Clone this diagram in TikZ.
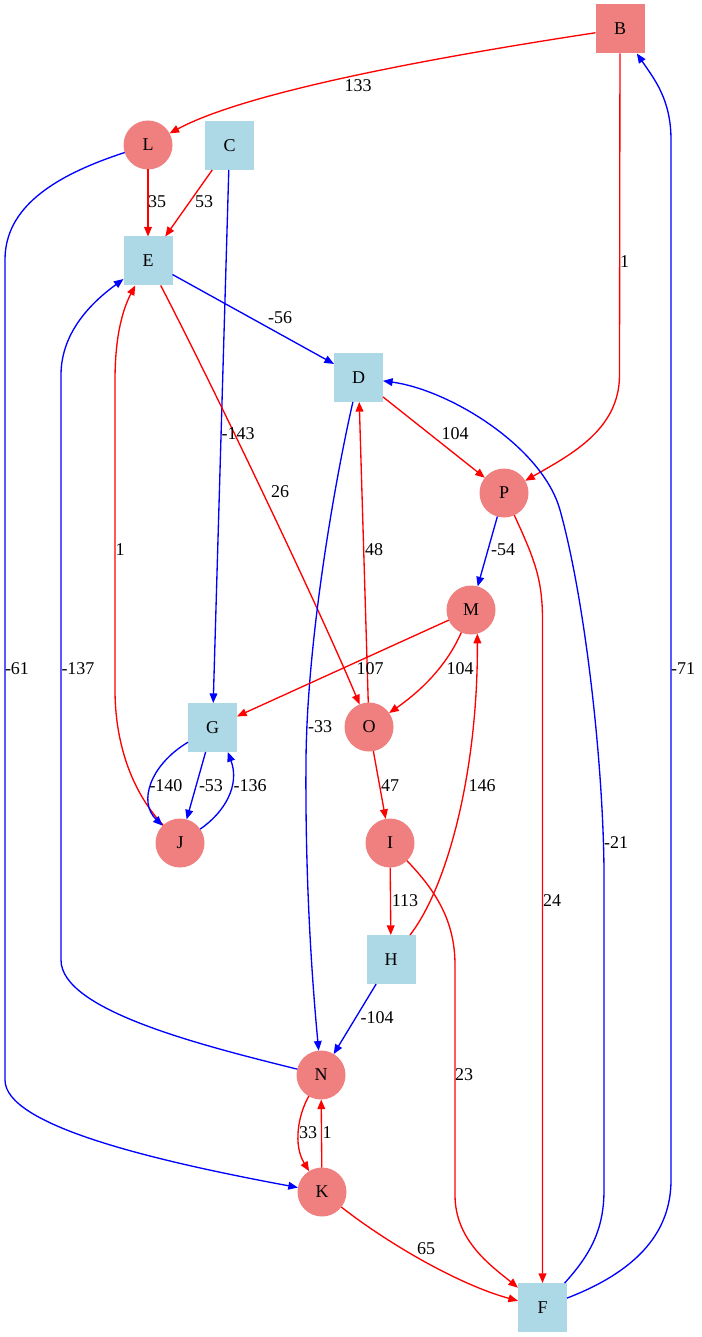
\documentclass[tikz,border=0pt]{standalone}
\usepackage{fontspec}
\setmainfont{Liberation Serif}
\usetikzlibrary{arrows.meta}
\definecolor{nodecoral}{HTML}{F08080}
\definecolor{nodeblue}{HTML}{ADD8E6}
\definecolor{edgered}{HTML}{FF0000}
\definecolor{edgeblue}{HTML}{0000FF}

\begin{document}
\begin{tikzpicture}[x=0.75pt,y=-0.75pt,
  font=\fontsize{13.5}{16}\selectfont,
  boxnode/.style={rectangle, fill=nodeblue, minimum width=36.75pt, minimum height=36.75pt, inner sep=0pt, outer sep=0pt},
  coralbox/.style={boxnode, fill=nodecoral},
  roundnode/.style={circle, fill=nodecoral, minimum size=36.75pt, inner sep=0pt, outer sep=0pt},
  edgelabel/.style={inner sep=0pt},
  arc/.style={line width=1pt, -{Triangle[length=7.2pt,width=5.8pt]}},
  redarc/.style={arc, draw=edgered},
  bluearc/.style={arc, draw=edgeblue},
]
\useasboundingbox (0,0) rectangle (701,1337);

% vertices
\node[coralbox]  (B) at (620,29)     {B};
\node[roundnode] (L) at (148,145)    {L};
\node[boxnode]   (C) at (229.5,145.5){C};
\node[boxnode]   (E) at (148,261)    {E};
\node[boxnode]   (D) at (358.5,377.5){D};
\node[roundnode] (P) at (504,493)    {P};
\node[roundnode] (M) at (471,610)    {M};
\node[boxnode]   (G) at (212.5,727.5){G};
\node[roundnode] (O) at (369,727)    {O};
\node[roundnode] (J) at (180,843)    {J};
\node[roundnode] (I) at (390,843)    {I};
\node[boxnode]   (H) at (391,959.5)  {H};
\node[roundnode] (N) at (321,1075)   {N};
\node[roundnode] (K) at (322,1192)   {K};
\node[boxnode]   (F) at (542.5,1307.5){F};

% edges
\draw[redarc] (B) .. controls (450,55) and (250,90) .. (L);
\draw[redarc] (B) -- (619.5,375) .. controls (619.5,430) and (570,455) .. (P);
\draw[bluearc] (F) .. controls (640,1270) and (671,1230) .. (671,1180) -- (671,140) .. controls (671,100) and (655,80) .. (B);
\draw[redarc] (L) -- (E);
\draw[redarc] (C) -- (E);
\draw[bluearc] (L) .. controls (40,180) and (5,215) .. (5,260) -- (5,1080) .. controls (5,1125) and (150,1160) .. (K);
\draw[bluearc] (C) -- (G);
\draw[bluearc] (E) -- (D);
\draw[redarc] (E) .. controls (215,390) and (320,610) .. (O);
\draw[redarc] (J) .. controls (130,790) and (115,740) .. (115,690) -- (115,380) .. controls (115,330) and (125,305) .. (E);
\draw[bluearc] (N) .. controls (200,1045) and (61,1010) .. (61,960) -- (61,375) .. controls (61,330) and (95,300) .. (E);
\draw[redarc] (D) -- (P);
\draw[bluearc] (D) .. controls (335,480) and (307,640) .. (306,760) .. controls (305,880) and (312,980) .. (N);
\draw[bluearc] (F) .. controls (590,1255) and (604,1230) .. (604,1190) -- (604,870) .. controls (603,760) and (585,600) .. (560,510) .. controls (542.5,447) and (450,390) .. (D);
\draw[bluearc] (P) -- (M);
\draw[redarc] (P) .. controls (535,560) and (542.5,580) .. (542.5,620) -- (F);
\draw[redarc] (O) -- (D);
\draw[redarc] (M) -- (G);
\draw[redarc] (M) .. controls (445,670) and (415,695) .. (O);
\draw[redarc] (H) .. controls (448,886) and (478,770) .. (M.-75);
\draw[bluearc] (G) .. controls (150,765) and (138,802) .. (J.135);
\draw[bluearc] (G) -- (J);
\draw[bluearc] (J) .. controls (225,812) and (240,785) .. (G.-58);
\draw[redarc] (O) -- (I);
\draw[redarc] (I) -- (H);
\draw[redarc] (I) .. controls (435,890) and (455,920) .. (455,965) -- (455,1195) .. controls (455,1240) and (490,1265) .. (F);
\draw[bluearc] (H) -- (N);
\draw[redarc] (N) .. controls (298,1115) and (293,1145) .. (K);
\draw[redarc] (K) -- (N);
\draw[redarc] (K) .. controls (390,1245) and (460,1285) .. (F);

% edge weights
\node[edgelabel] (wBL) at (358,86)    {133};
\node[edgelabel] (wBP) at (624.5,262) {1};
\node[edgelabel] (wLE) at (157,202)   {35};
\node[edgelabel] (wCE) at (204,202)   {53};
\node[edgelabel] (wED) at (280,318)   {-56};
\node[edgelabel] (wCG) at (238,434)   {-143};
\node[edgelabel] (wEO) at (280,492)   {26};
\node[edgelabel] (wJE) at (120,550)   {1};
\node[edgelabel] (wLK) at (17,669)    {-61};
\node[edgelabel] (wNE) at (78,669)    {-137};
\node[edgelabel] (wDP) at (455,434)   {104};
\node[edgelabel] (wOD) at (374,550)   {48};
\node[edgelabel] (wPM) at (503,550)   {-54};
\node[edgelabel] (wMG) at (370,669)   {107};
\node[edgelabel] (wMO) at (460,669)   {104};
\node[edgelabel] (wFB) at (683,669)   {-71};
\node[edgelabel] (wDN) at (320,727)   {-33};
\node[edgelabel] (wGJa) at (166,786)  {-140};
\node[edgelabel] (wGJb) at (211,786)  {-53};
\node[edgelabel] (wJG) at (250,786)   {-136};
\node[edgelabel] (wOI) at (390,786)   {47};
\node[edgelabel] (wHM) at (482,786)   {146};
\node[edgelabel] (wFD) at (616,843)   {-21};
\node[edgelabel] (wIH) at (405,901)   {113};
\node[edgelabel] (wPF) at (552,901)   {24};
\node[edgelabel] (wHN) at (377,1018)  {-104};
\node[edgelabel] (wIF) at (464,1075)  {23};
\node[edgelabel] (wNK) at (308,1133)  {33};
\node[edgelabel] (wKN) at (327,1133)  {1};
\node[edgelabel] (wKF) at (426,1249)  {65};
\end{tikzpicture}
\end{document}
